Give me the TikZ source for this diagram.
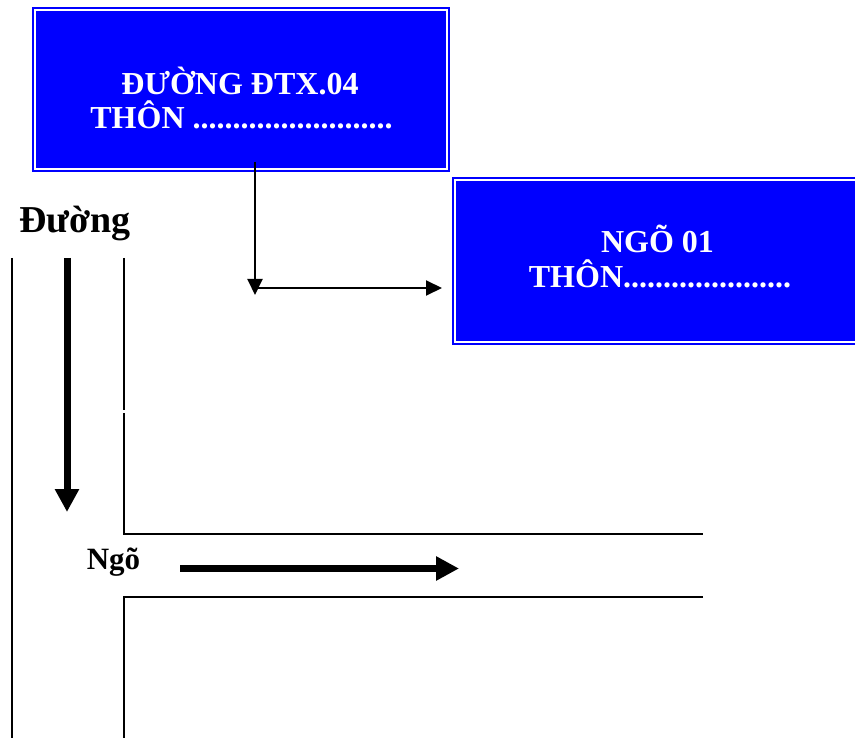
\documentclass[tikz,border=0pt]{standalone}
\usepackage{fontspec}
\setmainfont{Liberation Serif}
\usetikzlibrary{arrows.meta,calc}

\tikzset{
  signbox/.style={fill=blue, draw=blue, double=white, double distance=2pt, line width=2pt, inner sep=0pt},
  signtext/.style={text=white, font=\bfseries\fontsize{32}{38}\selectfont, anchor=base, inner sep=0pt},
  roadtext/.style={font=\bfseries\fontsize{#1}{#1}\selectfont, anchor=base, inner sep=0pt},
  roadline/.style={line width=1.2pt},
  thinarrow/.style={line width=2pt, -{Triangle[length=16pt,width=15pt]}},
  thickarrow/.style={line width=7pt, -{Triangle[length=23pt,width=23pt]}}
}

\begin{document}
\begin{tikzpicture}[x=1pt,y=-1pt]
    \useasboundingbox (0,0) rectangle (855,738);
    \clip (0,0) rectangle (855,738);

    % bien ten duong
    \node[signbox, minimum width=412pt, minimum height=159pt] (duong) at (241,89.5) {};
    \node[signtext] (duongten) at (240,95) {ĐƯỜNG ĐTX.04};
    \node[signtext] (duongthon) at (241.5,129) {THÔN .........................};

    % bien ten ngo
    \node[signbox, minimum width=406pt, minimum height=162pt] (ngo) at (658,261) {};
    \node[signtext] (ngoten) at (657.5,253) {NGÕ 01};
    \node[signtext] (ngothon) at (660,288) {THÔN.....................};

    \coordinate (goc) at (255,288);
    \draw[thinarrow] ($(duong.south -| goc)+(0,-8)$) -- ($(goc)+(0,7)$);
    \draw[thinarrow] (goc) -- ($(ngo.west |- goc)+(-12,0)$);

    % duong
    \draw[roadline] (12,258) -- (12,738);
    \draw[roadline] (124,258) -- (124,410);
    \draw[roadline] (124,413) -- (124,534) -- (703,534);
    \node[roadtext=38] (duongchu) at (75,233) {Đường};
    \draw[thickarrow] (67,258) -- (67,512);

    % ngo
    \draw[roadline] (703,597) -- (124,597) -- (124,738);
    \node[roadtext=31] (ngochu) at (113.5,569) {Ngõ};
    \draw[thickarrow] (180,568.5) -- (459,568.5);
\end{tikzpicture}
\end{document}
